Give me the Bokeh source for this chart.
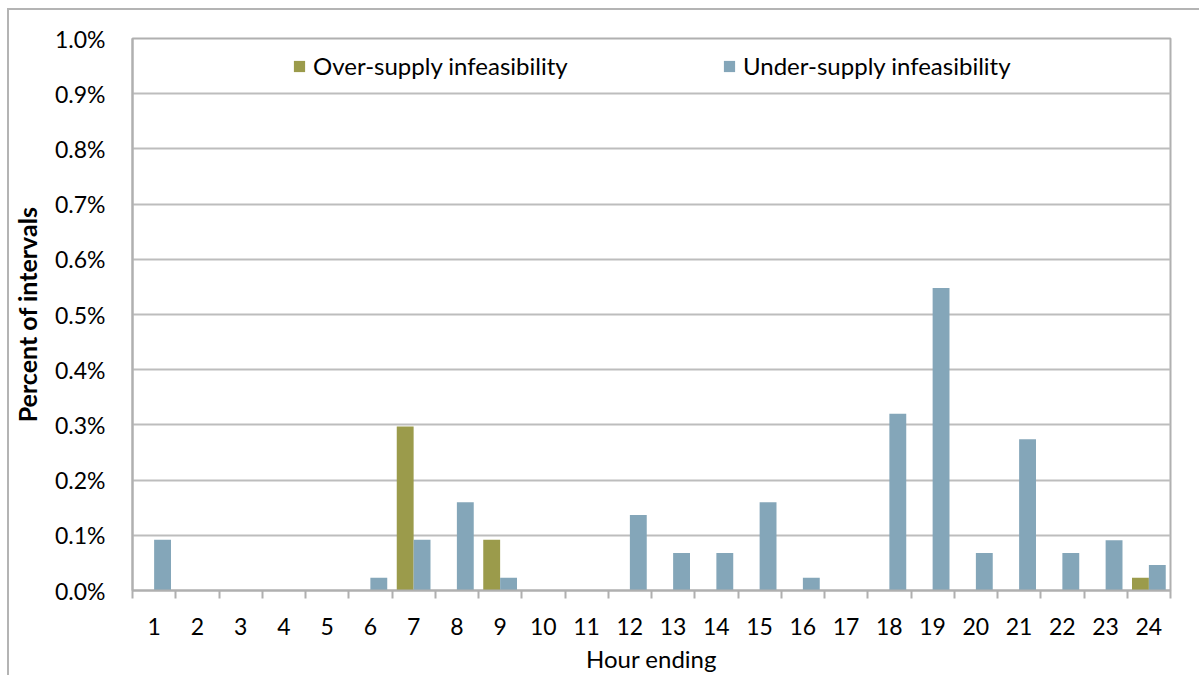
from bokeh.plotting import figure
from bokeh.models import (ColumnDataSource, FixedTicker, PrintfTickFormatter, Legend,
                          LegendItem, Range1d, InlineStyleSheet)
from bokeh.transform import dodge
from bokeh.embed import file_html
from bokeh.resources import INLINE

hours = list(range(1, 25))
hour_labels = [str(h) for h in hours]
over_supply = [0, 0, 0, 0, 0, 0, 0.297, 0, 0.092, 0, 0, 0, 0, 0, 0, 0, 0, 0, 0, 0, 0, 0, 0, 0.023]
under_supply = [0.092, 0, 0, 0, 0, 0.023, 0.092, 0.160, 0.023, 0, 0, 0.137, 0.068, 0.068, 0.160,
                0.023, 0, 0.320, 0.548, 0.068, 0.274, 0.068, 0.091, 0.046]
y_ticks = [0.0, 0.1, 0.2, 0.3, 0.4, 0.5, 0.6, 0.7, 0.8, 0.9, 1.0]

OVER_C = "#9B9B4B"
UNDER_C = "#84A6B9"
GRID_C = "#BDBDBD"
AXIS_C = "#B0B0B0"
FONT = "Lato"

src = ColumnDataSource(dict(hour=hours, over=over_supply, under=under_supply))

p = figure(width=1199, height=675, output_backend="svg", toolbar_location=None,
           x_range=Range1d(0.5, 24.5), y_range=Range1d(0, 1.0),
           min_border_left=132, min_border_right=29, min_border_top=38, min_border_bottom=84)

r_over = p.vbar(x=dodge("hour", -0.195, range=p.x_range), top="over", width=0.39, source=src,
                fill_color=OVER_C, line_color=None)
r_under = p.vbar(x=dodge("hour", 0.195, range=p.x_range), top="under", width=0.39, source=src,
                 fill_color=UNDER_C, line_color=None)

# x axis
p.xaxis.ticker = FixedTicker(ticks=hours, minor_ticks=[h + 0.5 for h in range(0, 25)])
p.xaxis.major_label_overrides = {h: l for h, l in zip(hours, hour_labels)}
p.xaxis.major_tick_line_color = None
p.xaxis.major_tick_out = 0
p.xaxis.major_tick_in = 0
p.xaxis.minor_tick_line_color = AXIS_C
p.xaxis.minor_tick_line_width = 2
p.xaxis.minor_tick_out = 8
p.xaxis.minor_tick_in = 0
p.xaxis.axis_line_color = AXIS_C
p.xaxis.axis_line_width = 2
p.xaxis.major_label_standoff = 19
p.xaxis.major_label_text_font = FONT
p.xaxis.major_label_text_font_size = "23px"
p.xaxis.major_label_text_color = "#000000"
p.xaxis.axis_label = "Hour ending"
p.xaxis.axis_label_text_font = FONT
p.xaxis.axis_label_text_font_size = "24px"
p.xaxis.axis_label_text_font_style = "normal"
p.xaxis.axis_label_text_color = "#000000"
p.xaxis.axis_label_standoff = 6
p.xgrid.grid_line_color = None

# y axis
p.yaxis.ticker = FixedTicker(ticks=y_ticks)
p.yaxis.formatter = PrintfTickFormatter(format="%.1f%%")
p.yaxis.major_tick_line_color = None
p.yaxis.minor_tick_line_color = None
p.yaxis.axis_line_color = AXIS_C
p.yaxis.axis_line_width = 2
p.yaxis.major_label_standoff = 21
p.yaxis.major_label_text_font = FONT
p.yaxis.major_label_text_font_size = "23px"
p.yaxis.major_label_text_color = "#000000"
p.yaxis.axis_label = "Percent of intervals"
p.yaxis.axis_label_text_font = FONT
p.yaxis.axis_label_text_font_size = "25px"
p.yaxis.axis_label_text_font_style = "bold"
p.yaxis.axis_label_text_color = "#000000"
p.yaxis.axis_label_standoff = 10
p.ygrid.grid_line_color = GRID_C
p.ygrid.grid_line_width = 2

p.outline_line_color = AXIS_C
p.outline_line_width = 2
p.background_fill_color = "white"
p.border_fill_color = "white"

# outer chart border (left and top edges, as in the reference)
p.stylesheets = [InlineStyleSheet(css="""
:host::after {
  content: ""; position: absolute; left: 7px; top: 8px; right: 0; bottom: 0;
  border-left: 2px solid #B4B4B4; border-top: 2px solid #B4B4B4;
  pointer-events: none; z-index: 10;
}
""")]

leg_kw = dict(orientation="horizontal", padding=0, margin=0, spacing=0,
              glyph_width=14, glyph_height=14, label_standoff=7,
              label_text_font=FONT, label_text_font_size="24px", label_text_color="#000000",
              border_line_color=None, background_fill_alpha=0)
leg1 = Legend(items=[LegendItem(label="Over-supply infeasibility", renderers=[r_over])],
              location=(160, 510), **leg_kw)
leg2 = Legend(items=[LegendItem(label="Under-supply infeasibility", renderers=[r_under])],
              location=(590, 510), **leg_kw)
p.add_layout(leg1)
p.add_layout(leg2)

open("out.html", "w").write(file_html(p, INLINE))
